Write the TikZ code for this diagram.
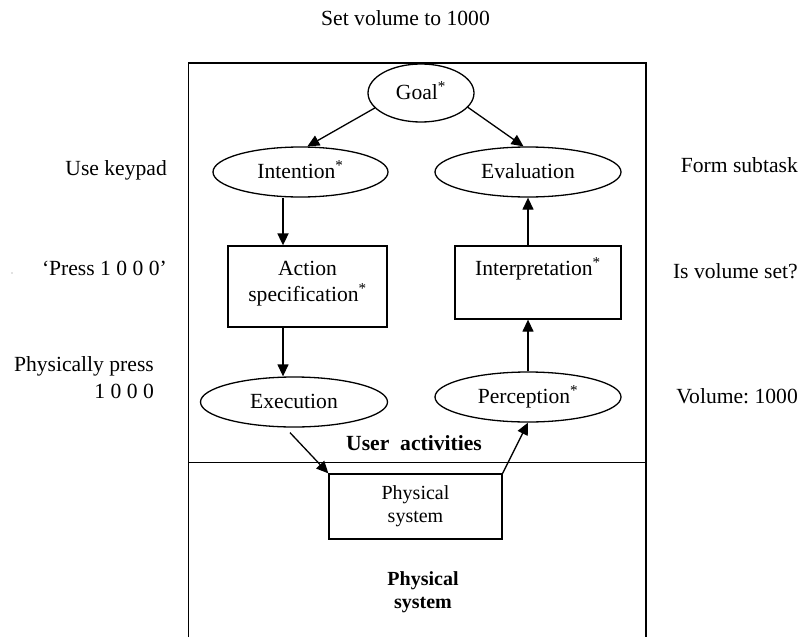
\documentclass[tikz,border=0pt]{standalone}
\usepackage{fontspec}
\setmainfont{Liberation Serif}
\usetikzlibrary{shapes.geometric,arrows.meta}
\frenchspacing
\begin{document}
\begin{tikzpicture}[x=1pt,y=-1pt,
  txt/.style={inner sep=0pt, font=\fontsize{21.6}{26}\selectfont},
  ell/.style={draw, ellipse, line width=1.3pt, inner sep=0pt,
    font=\fontsize{21.6}{26}\selectfont, text height=16pt, text depth=4pt},
  boxnode/.style={draw, rectangle, line width=1.3pt, inner sep=0pt, align=center,
    font=\fontsize{21.6}{26}\selectfont},
  frame/.style={line width=1.7pt},
  arr/.style={-{Triangle[length=12pt,width=11pt]}, line width=1.3pt},
  thickarr/.style={-{Triangle[length=12pt,width=11pt]}, line width=1.8pt}
]
\useasboundingbox (0,0) rectangle (800,637);

% outer frame and divider
\draw[frame] (188.5,637) -- (188.5,63) -- (646,63) -- (646,637);
\draw[frame] (188.5,462.5) -- (646,462.5);

% title
\node[txt, anchor=base] (title) at (405.5,25) {Set volume to 1000};

% stage nodes
\node[ell, minimum width=106pt, minimum height=58pt] (goal) at (421,93) {Goal\textsuperscript{*}};
\node[ell, minimum width=175pt, minimum height=50pt] (intention) at (300.5,172) {Intention\textsuperscript{*}};
\node[ell, minimum width=186pt, minimum height=50pt] (evaluation) at (528,172) {Evaluation};
\node[boxnode, minimum width=159pt, minimum height=81pt] (action) at (307.5,286.5)
  {\strut Action\\specification\textsuperscript{*}\rule[-15pt]{0pt}{15pt}};
\node[boxnode, minimum width=166pt, minimum height=73pt, text height=18pt, text depth=33pt] (interp) at (538,282.5)
  {Interpretation\textsuperscript{*}};
\node[ell, minimum width=187pt, minimum height=50pt] (exec) at (294,402) {Execution};
\node[ell, minimum width=186pt, minimum height=50pt] (percep) at (528,397) {Perception\textsuperscript{*}};
\node[boxnode, minimum width=173pt, minimum height=65pt, font=\fontsize{20}{23}\selectfont] (phys) at (415.5,506.5)
  {\strut Physical\\\strut system};

% region labels
\node[txt, anchor=base, font=\fontsize{21.6}{26}\selectfont\bfseries] (useract) at (414,450) {User\ \ activities};
\node[txt, align=center, font=\fontsize{20}{23}\selectfont\bfseries] (physlbl) at (423,592) {\strut Physical\\\strut system};

% left labels
\node[txt, anchor=base east] (l1) at (167,175) {Use keypad};
\node[txt, anchor=base east] (l2) at (167,275) {‘Press 1 0 0 0’};
\node[txt, anchor=base east] (l3) at (154,371) {Physically press};
\node[txt, anchor=base east] (l4) at (154,398) {1 0 0 0};
\fill[gray] (12,273) circle (0.7pt);

% right labels
\node[txt, anchor=base east] (r1) at (798,172) {Form subtask};
\node[txt, anchor=base east] (r2) at (798,278) {Is volume set?};
\node[txt, anchor=base east] (r3) at (798,403) {Volume: 1000};

% columns for vertical connectors
\coordinate (lcol) at (283,0);
\coordinate (rcol) at (528,0);

% connectors
\draw[arr] (goal.198) -- (intention.75);
\draw[arr] (goal.343) -- (evaluation.100);
\draw[thickarr] (intention.south -| lcol) -- (action.north -| lcol);
\draw[arr] (action.south -| lcol) -- (exec.north -| lcol);
\draw[arr] (percep.north -| rcol) -- (interp.south -| rcol);
\draw[arr] (interp.north -| rcol) -- (evaluation.south -| rcol);
\draw[arr] ([shift={(-4pt,-5pt)}]exec.south) -- (phys.north west);
\draw[arr] (phys.north east) -- (percep.south);
\end{tikzpicture}
\end{document}
